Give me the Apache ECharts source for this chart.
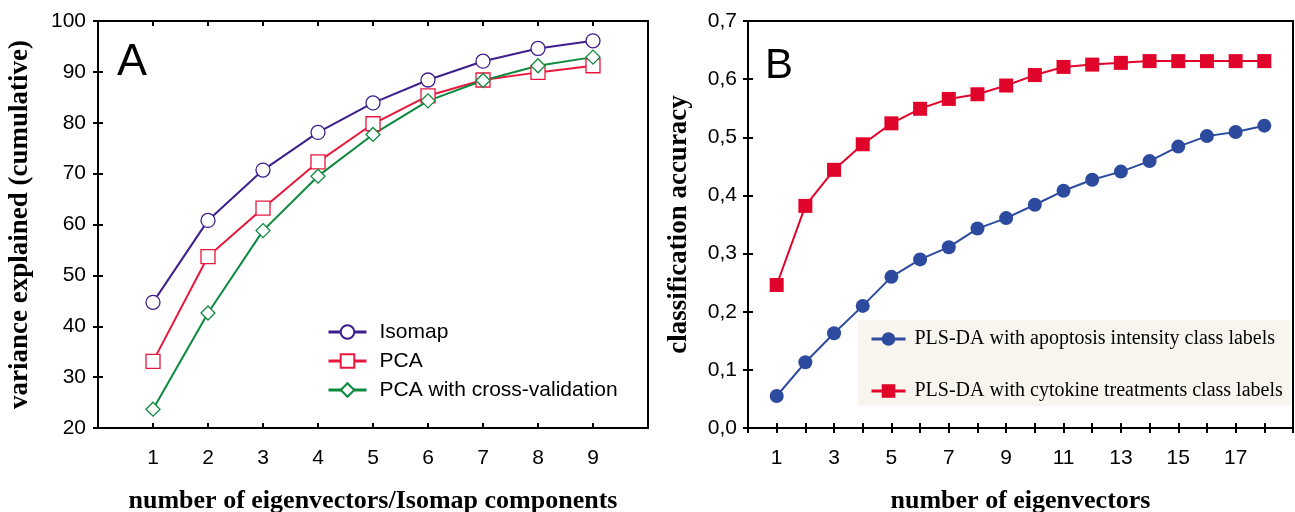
<!DOCTYPE html>
<html><head><meta charset="utf-8">
<script src="https://cdn.jsdelivr.net/npm/echarts@6/dist/echarts.min.js"></script>
<style>html,body{margin:0;padding:0;background:#fff}#c{width:1295px;height:512px}</style>
</head><body><div id="c"></div>
<script>
// Panel A
const compA = [1,2,3,4,5,6,7,8,9];
const isomap = [44.7,60.8,70.7,78.1,83.9,88.4,92.1,94.6,96.1];
const pca = [33.1,53.7,63.2,72.3,79.8,85.3,88.4,89.9,91.2];
const pcaCV = [23.7,42.6,58.8,69.5,77.7,84.3,88.3,91.2,92.9];
const yTicksA = [20,30,40,50,60,70,80,90,100];
// Panel B
const compB = [1,2,3,4,5,6,7,8,9,10,11,12,13,14,15,16,17,18];
const apoptosis = [0.055,0.113,0.163,0.210,0.260,0.290,0.311,0.343,0.361,0.384,0.408,0.427,0.441,0.459,0.484,0.502,0.509,0.520];
const cytokine = [0.246,0.382,0.444,0.488,0.524,0.549,0.566,0.574,0.589,0.607,0.621,0.625,0.628,0.631,0.631,0.631,0.631,0.631];
const xTickLabelsB = [1,3,5,7,9,11,13,15,17];
const yTicksB = ['0,0','0,1','0,2','0,3','0,4','0,5','0,6','0,7'];

const pair = (xs, ys) => xs.map((x, i) => [x, ys[i]]);
const sans = 'Liberation Sans, Arial, sans-serif';
const serif = 'Liberation Serif, Times New Roman, serif';
const tick = {show: true, inside: true, length: 5, lineStyle: {color: '#000', width: 2}};
const noLine = {show: false};

const chart = echarts.init(document.getElementById('c'));
chart.setOption({
  animation: false,
  backgroundColor: '#fff',
  grid: [
    {left: 98, top: 21, width: 550, height: 407, show: true, borderColor: '#000', borderWidth: 2, containLabel: false, outerBoundsMode: 'none'},
    {left: 748, top: 21, width: 545, height: 407, show: true, borderColor: '#000', borderWidth: 2, containLabel: false, outerBoundsMode: 'none'}
  ],
  xAxis: [
    {gridIndex: 0, type: 'value', min: 0, max: 10, interval: 1, axisLine: noLine, axisTick: tick, splitLine: {show: false},
     name: 'number of eigenvectors/Isomap components', nameLocation: 'middle', nameGap: 60,
     nameTextStyle: {fontFamily: serif, fontWeight: 'bold', fontSize: 26, color: '#000'},
     axisLabel: {margin: 20, fontFamily: sans, fontSize: 21, color: '#000',
       formatter: v => compA.includes(v) ? String(v) : ''}},
    {gridIndex: 0, type: 'value', position: 'top', min: 0, max: 10, interval: 1, axisLine: noLine, axisTick: tick, splitLine: {show: false}, axisLabel: {show: false}},
    {gridIndex: 1, type: 'value', min: 0, max: 19, interval: 1, axisLine: noLine, axisTick: tick, splitLine: {show: false},
     name: 'number of eigenvectors', nameLocation: 'middle', nameGap: 60,
     nameTextStyle: {fontFamily: serif, fontWeight: 'bold', fontSize: 26, color: '#000'},
     axisLabel: {margin: 20, fontFamily: sans, fontSize: 21, color: '#000',
       formatter: v => xTickLabelsB.includes(v) ? String(v) : ''}},
    {gridIndex: 1, type: 'value', position: 'top', min: 0, max: 19, interval: 1, axisLine: noLine, axisTick: tick, splitLine: {show: false}, axisLabel: {show: false}}
  ],
  yAxis: [
    {gridIndex: 0, type: 'value', min: 20, max: 100, interval: 10, axisLine: noLine, axisTick: tick, splitLine: {show: false},
     name: 'variance explained (cumulative)', nameLocation: 'middle', nameGap: 64, nameRotate: 90,
     nameTextStyle: {fontFamily: serif, fontWeight: 'bold', fontSize: 27, color: '#000'},
     axisLabel: {margin: 12, fontFamily: sans, fontSize: 21, color: '#000',
       formatter: v => yTicksA.includes(v) ? String(v) : ''}},
    {gridIndex: 0, type: 'value', position: 'right', min: 20, max: 100, interval: 10, axisLine: noLine, axisTick: tick, splitLine: {show: false}, axisLabel: {show: false}},
    {gridIndex: 1, type: 'value', min: 0, max: 0.7, interval: 0.1, axisLine: noLine, axisTick: tick, splitLine: {show: false},
     name: 'classification accuracy', nameLocation: 'middle', nameGap: 55, nameRotate: 90,
     nameTextStyle: {fontFamily: serif, fontWeight: 'bold', fontSize: 27, color: '#000'},
     axisLabel: {margin: 11, fontFamily: sans, fontSize: 21, color: '#000',
       formatter: v => yTicksB[Math.round(v * 10)]}},
    {gridIndex: 1, type: 'value', position: 'right', min: 0, max: 0.7, interval: 0.1, axisLine: noLine, axisTick: tick, splitLine: {show: false}, axisLabel: {show: false}}
  ],
  legend: [
    {orient: 'vertical', left: 322, top: 316, itemWidth: 38, itemHeight: 17, itemGap: 7,
     lineStyle: {width: 3},
     data: ['Isomap', 'PCA', 'PCA with cross-validation'],
     textStyle: {fontFamily: sans, fontSize: 21, color: '#000', lineHeight: 22, padding: [0, 0, 0, 8]}},
    {orient: 'vertical', left: 858, top: 320, itemWidth: 34, itemHeight: 17, itemGap: 32,
     lineStyle: {width: 3},
     backgroundColor: '#f8f4ee', padding: [9, 8, 5, 12],
     data: ['PLS-DA with apoptosis intensity class labels', 'PLS-DA with cytokine treatments class labels'],
     textStyle: {fontFamily: serif, fontSize: 20, color: '#000', lineHeight: 20, padding: [0, 0, 0, 4]}}
  ],
  graphic: [
    {type: 'text', left: 117, top: 40, style: {text: 'A', fontFamily: sans, fontSize: 45, fill: '#000'}},
    {type: 'text', left: 765, top: 45, style: {text: 'B', fontFamily: sans, fontSize: 42, fill: '#000'}}
  ],
  series: [
    {name: 'Isomap', type: 'line', xAxisIndex: 0, yAxisIndex: 0, data: pair(compA, isomap),
     symbol: 'circle', symbolSize: 14, lineStyle: {color: '#3d1f8c', width: 2},
     itemStyle: {color: '#fff', borderColor: '#3d1f8c', borderWidth: 1.3}},
    {name: 'PCA', type: 'line', xAxisIndex: 0, yAxisIndex: 0, data: pair(compA, pca),
     symbol: 'rect', symbolSize: 14, lineStyle: {color: '#e8173c', width: 2},
     itemStyle: {color: '#fff', borderColor: '#e8173c', borderWidth: 1.3}},
    {name: 'PCA with cross-validation', type: 'line', xAxisIndex: 0, yAxisIndex: 0, data: pair(compA, pcaCV),
     symbol: 'diamond', symbolSize: 14, lineStyle: {color: '#0b8a3e', width: 2},
     itemStyle: {color: '#fff', borderColor: '#0b8a3e', borderWidth: 1.3}},
    {name: 'PLS-DA with apoptosis intensity class labels', type: 'line', xAxisIndex: 2, yAxisIndex: 2, data: pair(compB, apoptosis),
     symbol: 'circle', symbolSize: 14, lineStyle: {color: '#2c4a9e', width: 2},
     itemStyle: {color: '#2c4a9e'}},
    {name: 'PLS-DA with cytokine treatments class labels', type: 'line', xAxisIndex: 2, yAxisIndex: 2, data: pair(compB, cytokine),
     symbol: 'rect', symbolSize: 14, lineStyle: {color: '#e0042b', width: 2},
     itemStyle: {color: '#e0042b'}}
  ]
});
</script></body></html>
